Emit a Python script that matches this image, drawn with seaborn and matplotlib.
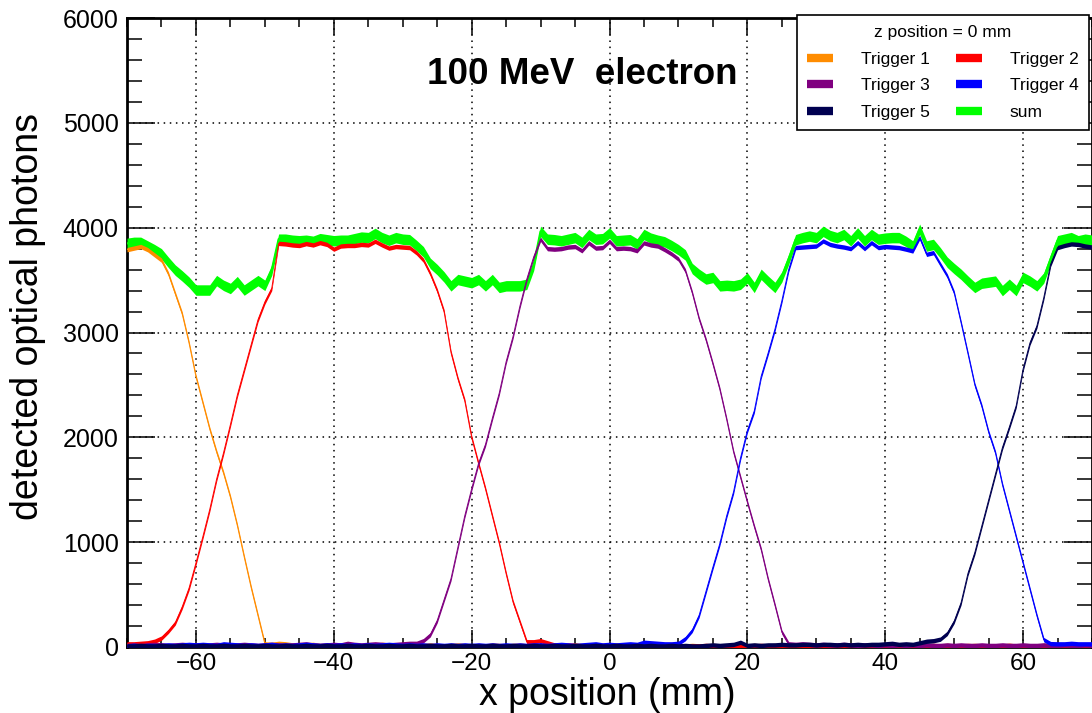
import numpy as np
import pandas as pd
import seaborn as sns
import matplotlib.pyplot as plt
from matplotlib.lines import Line2D
from matplotlib.ticker import MultipleLocator

# x positions in mm (1 mm steps from -70 to 70)
x_mm = np.arange(-70, 71)

trigger1 = [3790, 3805, 3820, 3790, 3740, 3690, 3560, 3370, 3180, 2900,
            2580, 2330, 2080, 1860, 1660, 1430, 1160, 860, 570, 300,
            30, 25, 35, 30, 20, 15, 20, 25, 15, 20,
            15, 20, 25, 15, 10, 20, 15, 25, 20, 15,
            15, 10, 20, 15, 20, 15, 10, 15, 20, 15,
            10, 15, 10, 20, 15, 10, 15, 20, 10, 15,
            10, 15, 10, 15, 10, 20, 15, 10, 15, 10,
            10, 15, 10, 10, 15, 10, 15, 10, 10, 15,
            10, 10, 15, 10, 10, 15, 10, 10, 15, 10,
            10, 15, 10, 10, 15, 10, 10, 10, 15, 10,
            10, 10, 15, 10, 10, 10, 15, 10, 10, 10,
            15, 10, 10, 10, 15, 10, 10, 10, 10, 15,
            10, 10, 10, 15, 10, 10, 10, 10, 15, 10,
            10, 10, 10, 10, 15, 10, 10, 10, 10, 10,
            10]

trigger2 = [30, 30, 35, 40, 55, 85, 150, 230, 380, 560,
            800, 1050, 1310, 1600, 1850, 2120, 2400, 2640, 2880, 3120,
            3290, 3420, 3850, 3845, 3835, 3830, 3848, 3835, 3857, 3840,
            3795, 3825, 3830, 3830, 3840, 3835, 3870, 3835, 3805, 3820,
            3815, 3810, 3760, 3690, 3560, 3400, 3200, 2810, 2560, 2350,
            2000, 1750, 1510, 1250, 990, 700, 430, 240, 50, 50,
            60, 40, 20, 15, 20, 15, 10, 15, 10, 15,
            10, 15, 10, 10, 15, 10, 10, 15, 10, 10,
            15, 10, 10, 10, 15, 10, 10, 10, 15, 10,
            10, 10, 15, 10, 10, 10, 10, 15, 10, 10,
            10, 15, 10, 10, 10, 10, 15, 10, 10, 10,
            10, 15, 10, 10, 10, 10, 10, 15, 10, 10,
            10, 10, 15, 10, 10, 10, 10, 10, 15, 10,
            10, 10, 10, 15, 10, 10, 10, 10, 10, 15,
            10]

trigger3 = [15, 20, 15, 20, 25, 20, 15, 20, 25, 20,
            20, 15, 20, 25, 20, 15, 20, 25, 20, 15,
            20, 25, 20, 15, 20, 25, 30, 20, 15, 20,
            25, 20, 35, 25, 20, 25, 30, 25, 20, 25,
            30, 35, 35, 60, 117, 250, 450, 650, 950, 1250,
            1508, 1750, 1930, 2180, 2420, 2720, 2960, 3250, 3508, 3720,
            3889, 3800, 3795, 3800, 3815, 3820, 3780, 3855, 3805, 3810,
            3870, 3800, 3805, 3800, 3780, 3855, 3835, 3825, 3790, 3750,
            3700, 3590, 3380, 3130, 2930, 2700, 2460, 2170, 1860, 1620,
            1381, 1150, 930, 650, 400, 143, 30, 25, 30, 25,
            20, 25, 20, 20, 25, 20, 15, 20, 20, 15,
            20, 15, 20, 15, 20, 15, 20, 15, 15, 20,
            15, 20, 15, 15, 20, 15, 15, 20, 15, 15,
            20, 15, 15, 20, 15, 15, 20, 15, 15, 20,
            15]

trigger4 = [10, 15, 10, 15, 10, 15, 20, 15, 20, 25,
            20, 25, 20, 15, 30, 25, 20, 15, 20, 15,
            20, 25, 15, 20, 15, 20, 25, 20, 15, 20,
            15, 20, 15, 20, 15, 20, 15, 20, 25, 20,
            15, 20, 15, 20, 15, 20, 15, 20, 15, 20,
            15, 20, 15, 20, 15, 20, 15, 20, 15, 20,
            20, 15, 20, 25, 20, 15, 20, 25, 30, 20,
            25, 20, 25, 30, 25, 45, 40, 35, 30, 30,
            35, 80, 159, 300, 530, 760, 984, 1250, 1480, 1800,
            2063, 2250, 2580, 2800, 3030, 3300, 3600, 3810, 3815, 3820,
            3825, 3873, 3840, 3825, 3815, 3800, 3857, 3800, 3857, 3810,
            3820, 3815, 3810, 3795, 3778, 3905, 3746, 3762, 3650, 3540,
            3380, 3095, 2800, 2500, 2300, 2050, 1850, 1550, 1300, 1050,
            800, 550, 300, 70, 32, 30, 30, 35, 30, 30,
            30]

trigger5 = [10, 10, 15, 10, 10, 15, 10, 10, 15, 10,
            10, 15, 10, 10, 15, 10, 10, 15, 10, 10,
            15, 10, 10, 15, 10, 10, 15, 10, 10, 15,
            10, 10, 15, 10, 10, 15, 10, 10, 15, 10,
            10, 15, 10, 10, 15, 10, 10, 15, 10, 10,
            15, 10, 10, 15, 10, 10, 15, 10, 10, 15,
            10, 10, 15, 10, 10, 15, 10, 10, 15, 10,
            10, 15, 10, 10, 15, 10, 15, 10, 10, 15,
            10, 15, 10, 10, 15, 20, 15, 20, 25, 45,
            15, 20, 15, 20, 20, 25, 20, 20, 25, 25,
            20, 25, 25, 20, 25, 20, 25, 20, 25, 25,
            30, 35, 25, 30, 25, 40, 55, 60, 75, 130,
            244, 420, 700, 900, 1150, 1400, 1650, 1900, 2095, 2300,
            2650, 2900, 3060, 3330, 3650, 3810, 3830, 3845, 3840, 3825,
            3815]

total = [3850, 3860, 3860, 3825, 3790, 3750, 3670, 3595, 3540, 3480,
         3405, 3405, 3405, 3495, 3450, 3420, 3485, 3405, 3450, 3495,
         3450, 3595, 3890, 3890, 3880, 3875, 3880, 3870, 3895, 3885,
         3875, 3880, 3880, 3895, 3910, 3905, 3945, 3905, 3880, 3905,
         3890, 3885, 3830, 3770, 3660, 3600, 3530, 3445, 3505, 3490,
         3475, 3505, 3445, 3505, 3430, 3445, 3445, 3445, 3460, 3640,
         3965, 3890, 3885, 3875, 3890, 3905, 3860, 3935, 3890, 3895,
         3950, 3875, 3880, 3885, 3845, 3935, 3900, 3880, 3865, 3830,
         3790, 3740, 3610, 3555, 3510, 3525, 3445, 3450, 3445, 3460,
         3520, 3430, 3555, 3490, 3430, 3530, 3700, 3885, 3905, 3920,
         3905, 3965, 3925, 3905, 3935, 3875, 3950, 3875, 3935, 3890,
         3900, 3905, 3905, 3870, 3825, 3985, 3825, 3840, 3760, 3670,
         3610, 3555, 3490, 3430, 3470, 3480, 3490, 3400, 3460, 3400,
         3525, 3490, 3445, 3520, 3700, 3875, 3890, 3905, 3875, 3890,
         3880]

series_names = ['Trigger 1', 'Trigger 2', 'Trigger 3', 'Trigger 4', 'Trigger 5', 'sum']
series_values = [trigger1, trigger2, trigger3, trigger4, trigger5, total]
colors = {'Trigger 1': '#ff8c00', 'Trigger 2': '#ff0000', 'Trigger 3': '#800080',
          'Trigger 4': '#0000ff', 'Trigger 5': '#000050', 'sum': '#00ff00'}

df = pd.concat([pd.DataFrame({'x': x_mm, 'photons': v, 'series': n})
                for n, v in zip(series_names, series_values)], ignore_index=True)

sns.set_style('ticks')
plt.rcParams['font.family'] = ['Liberation Sans', 'DejaVu Sans']
for key in ['text.color', 'axes.labelcolor', 'xtick.color', 'ytick.color', 'axes.edgecolor']:
    plt.rcParams[key] = 'black'

fig = plt.figure(figsize=(10.92, 7.13), dpi=100)
ax = fig.add_axes([127 / 1092, 66 / 713, 965 / 1092, 629 / 713])

# sum first, triggers on top; bands give the ROOT thick-line look
draw_order = ['sum', 'Trigger 1', 'Trigger 2', 'Trigger 3', 'Trigger 4', 'Trigger 5']
for i, name in enumerate(draw_order):
    sub = df[df['series'] == name]
    half = 50 if name == 'sum' else 21
    lw = 1.6 if name == 'sum' else 0.7
    ax.fill_between(sub['x'], sub['photons'] - half, sub['photons'] + half,
                    color=colors[name], linewidth=0, zorder=3 + i)
    sns.lineplot(data=sub, x='x', y='photons', color=colors[name], linewidth=lw,
                 ax=ax, legend=False, zorder=3.5 + i)

ax.set_xlim(-70, 70)
ax.set_ylim(0, 6000)
ax.xaxis.set_major_locator(MultipleLocator(20))
ax.xaxis.set_minor_locator(MultipleLocator(5))
ax.yaxis.set_major_locator(MultipleLocator(1000))
ax.yaxis.set_minor_locator(MultipleLocator(200))
ax.tick_params(which='both', direction='in', top=True, right=True, labelsize=18, width=1.1)
ax.tick_params(axis='x', which='major', length=12, pad=4, labelsize=17.5)
ax.tick_params(axis='x', which='minor', length=6.5)
ax.tick_params(axis='y', which='major', length=20, pad=6)
ax.tick_params(axis='y', which='minor', length=11)
ax.grid(True, which='major', color='black', linestyle=(0, (1, 3)), linewidth=1.1)
for s in ax.spines.values():
    s.set_linewidth(2)
ax.set_xlabel('')
ax.set_ylabel('')

fig.text(607 / 1092, 1 - 695 / 713, 'x position (mm)', fontsize=27, ha='center', va='center')
fig.text(28 / 1092, 1 - 317 / 713, 'detected optical photons', fontsize=27,
         rotation=90, ha='center', va='center')
fig.text(427 / 1092, 1 - 84 / 713, '100 MeV  electron', fontsize=26.5,
         fontweight='bold', va='baseline')

legend_order = ['Trigger 1', 'Trigger 3', 'Trigger 5', 'Trigger 2', 'Trigger 4', 'sum']
handles = [Line2D([], [], color=colors[n], linewidth=6, solid_capstyle='butt')
           for n in legend_order]
leg = ax.legend(handles, legend_order, ncol=2, loc='upper right',
                bbox_to_anchor=(0.997, 1 - 15 / 713), bbox_transform=fig.transFigure,
                title='z position = 0 mm', fontsize=12.5, title_fontsize=12.5,
                fancybox=False, framealpha=1, edgecolor='black', borderaxespad=0,
                handlelength=1.5, handletextpad=1.6, columnspacing=1.5,
                labelspacing=0.65, borderpad=0.6)
leg.get_frame().set_linewidth(1.2)
leg.set_zorder(20)

fig.savefig('out.png', dpi=100)
